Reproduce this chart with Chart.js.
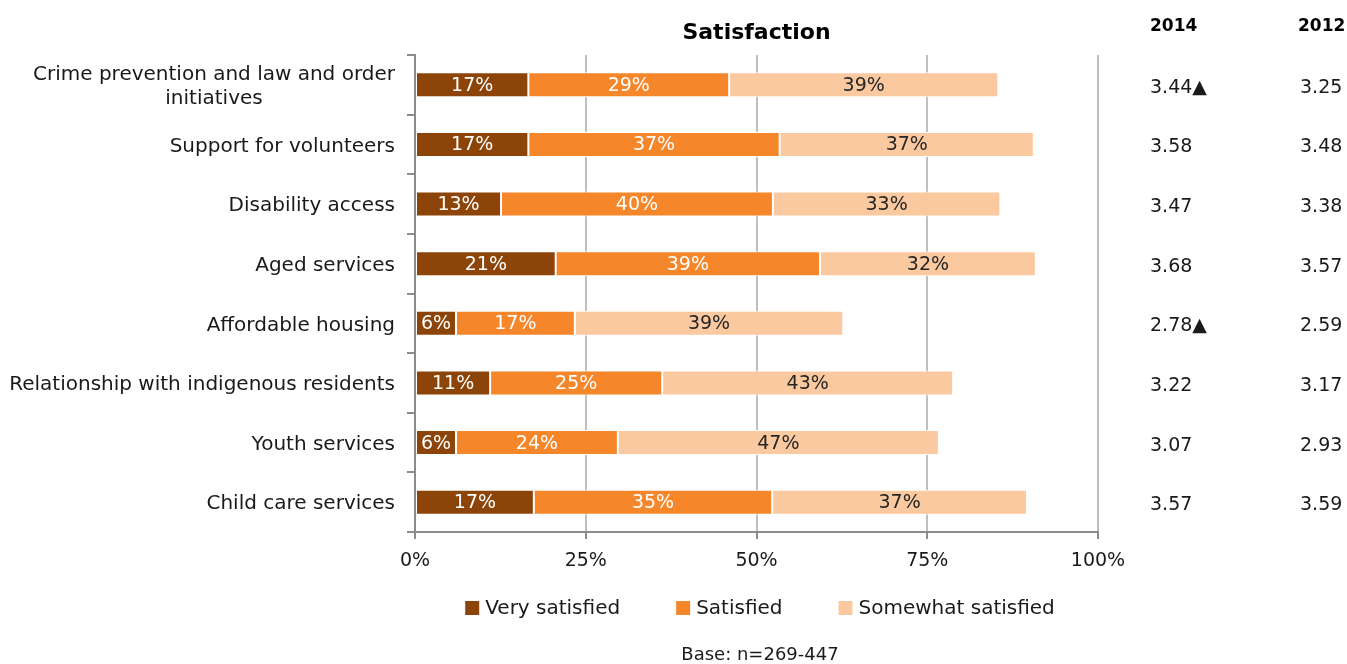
<!DOCTYPE html>
<html>
<head>
<meta charset="utf-8">
<script src="https://cdn.jsdelivr.net/npm/chart.js@4.4.1/dist/chart.umd.min.js"></script>
<style>
  body { margin: 0; background: #fff; }
  #caja { width: 1347px; height: 664px; position: relative; }
</style>
</head>
<body>
<div id="caja"><canvas id="miGrafico"></canvas></div>
<script>
// Datos del gráfico
const categorias = [
    ['Crime prevention and law and order', 'initiatives'],
    ['Support for volunteers'],
    ['Disability access'],
    ['Aged services'],
    ['Affordable housing'],
    ['Relationship with indigenous residents'],
    ['Youth services'],
    ['Child care services']
];
const muySatisfecho  = [16.6, 16.6, 12.6, 20.6, 6.0, 11.0, 6.0, 17.4];
const satisfecho     = [29.4, 36.8, 39.8, 38.7, 17.4, 25.2, 23.7, 34.9];
const algoSatisfecho = [39.4, 37.2, 33.3, 31.6, 39.3, 42.6, 47.0, 37.3];
const series = ['Very satisfied', 'Satisfied', 'Somewhat satisfied'];
const media2014 = [3.44, 3.58, 3.47, 3.68, 2.78, 3.22, 3.07, 3.57];
const subio2014 = [true, false, false, false, true, false, false, false];
const media2012 = [3.25, 3.48, 3.38, 3.57, 2.59, 3.17, 2.93, 3.59];
const ticksX = [0, 25, 50, 75, 100];

const FUENTE = '"DejaVu Sans", sans-serif';
const colores = ['#8C4408', '#F5862A', '#FAC9A0'];
const coloresTexto = ['#ffffff', '#ffffff', '#262626'];

// Plugin con todo lo que Chart.js no dibuja solo
const extras = {
    id: 'extras',
    afterDatasetsDraw(chart) {
        const ctx = chart.ctx;
        const area = chart.chartArea;
        const ejeY = chart.scales.y;
        ctx.save();
        ctx.textBaseline = 'middle';

        // etiquetas dentro de las barras
        ctx.font = '19px ' + FUENTE;
        ctx.textAlign = 'center';
        chart.data.datasets.forEach((ds, d) => {
            chart.getDatasetMeta(d).data.forEach((bar, i) => {
                ctx.fillStyle = coloresTexto[d];
                const xm = (bar.x + bar.base) / 2;
                ctx.fillText(Math.round(ds.data[i]) + '%', xm, bar.y + 1);
            });
        });

        // etiquetas del eje Y (bloque alineado a la derecha, líneas centradas)
        ctx.font = '20px ' + FUENTE;
        ctx.fillStyle = '#1a1a1a';
        const derecha = area.left - 20;
        categorias.forEach((lineas, i) => {
            const yc = ejeY.getPixelForValue(i);
            const ancho = Math.max(...lineas.map(l => ctx.measureText(l).width));
            const xc = derecha - ancho / 2;
            const alto = 24;
            lineas.forEach((l, k) => {
                ctx.fillText(l, xc, yc + 2 + (k - (lineas.length - 1) / 2) * alto);
            });
        });

        // título
        ctx.font = 'bold 22px ' + FUENTE;
        ctx.fillStyle = '#000';
        ctx.fillText('Satisfaction', (area.left + area.right) / 2, 33);

        // columnas de medias
        ctx.font = 'bold 17px ' + FUENTE;
        ctx.textAlign = 'left';
        ctx.fillText('2014', 1150, 27);
        ctx.fillText('2012', 1298, 27);
        ctx.font = '19px ' + FUENTE;
        ctx.fillStyle = '#1a1a1a';
        media2014.forEach((v, i) => {
            const yc = ejeY.getPixelForValue(i) + 3;
            ctx.fillText(v.toFixed(2) + (subio2014[i] ? '▲' : ''), 1150, yc);
            ctx.fillText(media2012[i].toFixed(2), 1300, yc);
        });

        // leyenda
        ctx.font = '20px ' + FUENTE;
        const yl = 608;
        const hueco = 56;
        const anchos = series.map(s => 14 + 6 + ctx.measureText(s).width);
        const total = anchos.reduce((a, b) => a + b, 0) + hueco * (series.length - 1);
        let x = 760 - total / 2;
        series.forEach((s, k) => {
            ctx.fillStyle = colores[k];
            ctx.fillRect(x, yl - 7, 14, 14);
            ctx.fillStyle = '#1a1a1a';
            ctx.fillText(s, x + 20, yl + 1);
            x += anchos[k] + hueco;
        });

        // base
        ctx.textAlign = 'center';
        ctx.font = '18px ' + FUENTE;
        ctx.fillText('Base: n=269-447', 760, 655);
        ctx.restore();
    }
};

const ctx = document.getElementById('miGrafico').getContext('2d');
new Chart(ctx, {
    type: 'bar',
    data: {
        labels: categorias.map(c => c.join(' ')),
        datasets: [muySatisfecho, satisfecho, algoSatisfecho].map((datos, k) => ({
            label: series[k],
            data: datos,
            backgroundColor: colores[k],
            borderColor: '#ffffff',
            borderWidth: 1,
            borderSkipped: false,
            categoryPercentage: 1,
            barPercentage: 0.42
        }))
    },
    options: {
        indexAxis: 'y',
        responsive: true,
        maintainAspectRatio: false,
        animation: false,
        layout: { padding: { left: 0, right: 249, top: 55, bottom: 0 } },
        plugins: {
            legend: { display: false },
            tooltip: { enabled: false },
            title: { display: false }
        },
        scales: {
            x: {
                stacked: true,
                min: 0,
                max: 100,
                afterBuildTicks: s => { s.ticks = ticksX.map(v => ({ value: v })); },
                afterFit: s => { s.height = 132; },
                ticks: {
                    callback: v => v + '%',
                    font: { family: FUENTE, size: 19 },
                    color: '#1a1a1a',
                    padding: 11,
                    maxRotation: 0
                },
                grid: { color: '#BFBFBF', lineWidth: 2, tickLength: 7, tickColor: '#8C8C8C' },
                border: { color: '#8C8C8C', width: 2 }
            },
            y: {
                stacked: true,
                afterFit: s => { s.width = 415; },
                ticks: { display: false },
                grid: { drawOnChartArea: false, tickLength: 8, color: '#8C8C8C', lineWidth: 2, offset: true },
                border: { color: '#8C8C8C', width: 2 }
            }
        }
    },
    plugins: [extras]
});
</script>
</body>
</html>
